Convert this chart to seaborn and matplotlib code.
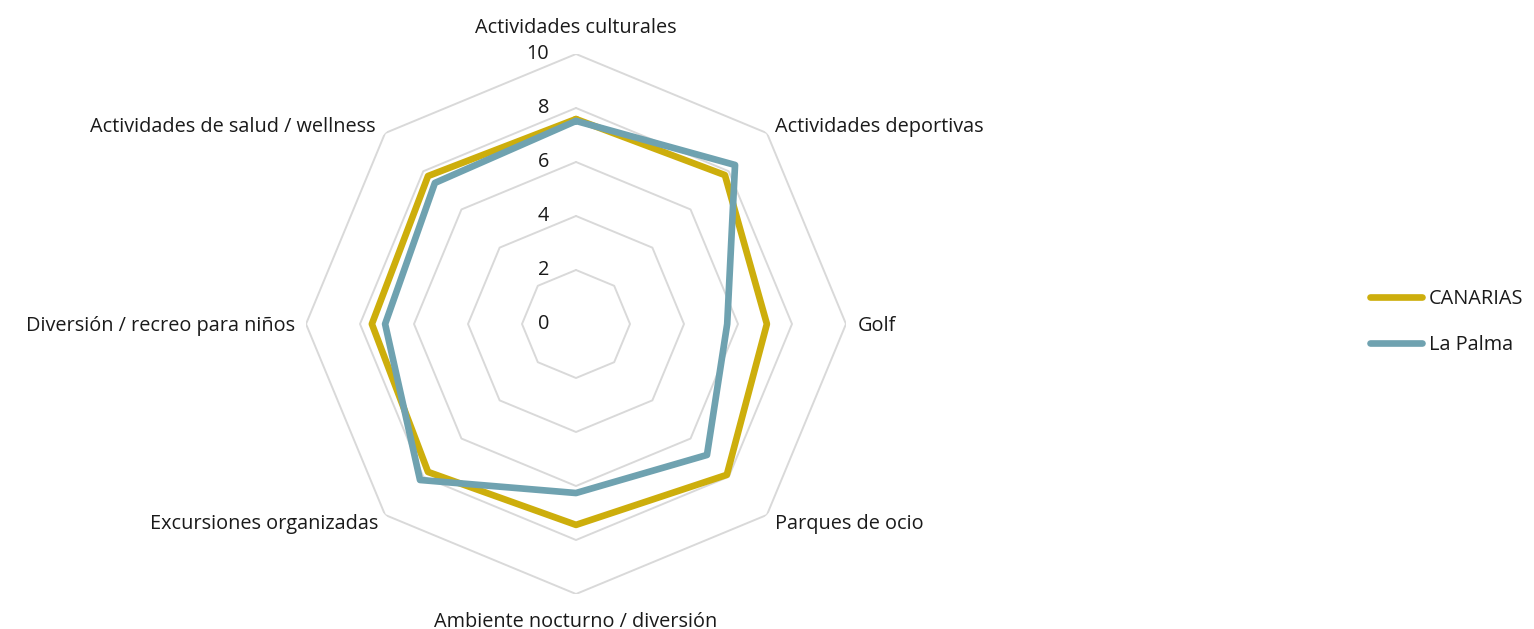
import numpy as np
import pandas as pd
import matplotlib
matplotlib.use("Agg")
import matplotlib.pyplot as plt
from matplotlib.lines import Line2D
import seaborn as sns

categories = [
    "Actividades culturales",
    "Actividades deportivas",
    "Golf",
    "Parques de ocio",
    "Ambiente nocturno / diversión",
    "Excursiones organizadas",
    "Diversión / recreo para niños",
    "Actividades de salud / wellness",
]
canarias = [7.59, 7.80, 7.07, 7.90, 7.44, 7.75, 7.56, 7.75]
la_palma = [7.52, 8.33, 5.60, 6.86, 6.26, 8.17, 7.07, 7.39]
series_names = ["CANARIAS", "La Palma"]
r_ticks = [0, 2, 4, 6, 8, 10]

colors = {"CANARIAS": "#CDAE0C", "La Palma": "#6FA2B0"}
grid_color = "#D9D9D9"
text_color = "#1A1A1A"

sns.set_theme(style="white")
plt.rcParams["font.family"] = ["Open Sans", "DejaVu Sans"]
FS = 14.3
PX = 0.72  # points per pixel at 100 dpi
LW = 4.8

n = len(categories)
angles = np.linspace(0, 2 * np.pi, n, endpoint=False)
closed_angles = np.append(angles, 2 * np.pi)

rows = []
for name, vals in zip(series_names, [canarias, la_palma]):
    closed_vals = list(vals) + [vals[0]]
    for i, (a, v) in enumerate(zip(closed_angles, closed_vals)):
        rows.append({"series": name, "angle": a, "value": v, "order": i})
df = pd.DataFrame(rows)

fig = plt.figure(figsize=(15.34, 6.29), dpi=100)
W, H = 1534, 629
cx, cy, R = 576, 324, 270
ax = fig.add_axes([(cx - R) / W, (H - cy - R) / H, 2 * R / W, 2 * R / H],
                  projection="polar")
ax.set_theta_offset(np.pi / 2)
ax.set_theta_direction(-1)
ax.set_ylim(0, 10)
ax.grid(False)
ax.spines["polar"].set_visible(False)
ax.set_xticks([])
ax.set_yticks([])
ax.set_facecolor("none")

# octagonal grid rings
for t in r_ticks[1:]:
    ax.plot(closed_angles, [t] * (n + 1), color=grid_color, lw=1.4, zorder=1)

# value axis labels
for t in r_ticks:
    ax.annotate(str(t), xy=(0, t), xytext=(-27 * PX, 0), textcoords="offset points",
                ha="right", va="center", fontsize=FS, color=text_color)

sns.lineplot(data=df, x="angle", y="value", hue="series", hue_order=series_names,
             palette=colors, sort=False, estimator=None, units="series",
             lw=LW, ax=ax, legend=False, zorder=3)
for line in ax.get_lines()[-2:]:
    line.set_solid_joinstyle("round")
    line.set_solid_capstyle("round")

ax.set_xlabel("")
ax.set_ylabel("")

# category labels around the outer ring (offsets in pixels, baseline-anchored)
label_specs = [
    ("center", (0, 21)),
    ("left", (8, 1)),
    ("left", (12, -7)),
    ("left", (8, -14)),
    ("center", (0, -33)),
    ("right", (-7, -14)),
    ("right", (-11, -7)),
    ("right", (-9, 1)),
]
for a, cat, (ha, (dx, dy)) in zip(angles, categories, label_specs):
    ax.annotate(cat, xy=(a, 10), xytext=(dx * PX, dy * PX), textcoords="offset points",
                ha=ha, va="baseline", fontsize=FS, color=text_color,
                annotation_clip=False)

handles = [Line2D([0], [0], color=colors[s], lw=LW, solid_capstyle="round")
           for s in series_names]
leg = fig.legend(handles, series_names, loc="center left",
                 bbox_to_anchor=(1370 / W, 1 - 322 / H), frameon=False,
                 fontsize=FS, handlelength=2.6, handletextpad=0.35,
                 labelspacing=1.3, borderaxespad=0, borderpad=0)
for txt in leg.get_texts():
    txt.set_color(text_color)

fig.savefig("out.png", dpi=100, facecolor="white")
